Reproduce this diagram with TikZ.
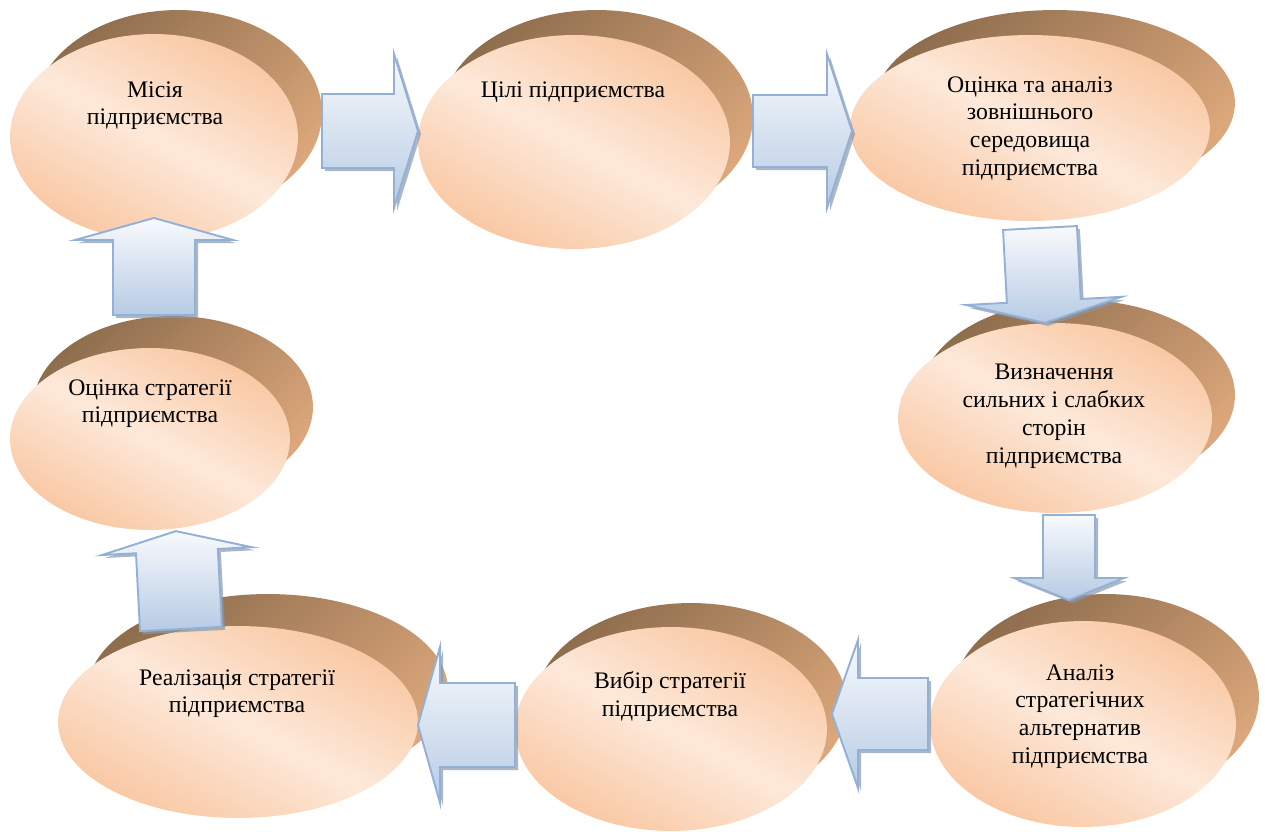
\documentclass[tikz,border=0pt]{standalone}
\usepackage{fontspec}
\setmainfont{Liberation Serif}
\usepackage{tikz}
\usetikzlibrary{calc,shapes.geometric}

\definecolor{peachlight}{HTML}{FDE9DA}
\definecolor{peachdark}{HTML}{F9C6A0}
\definecolor{browndark}{HTML}{8F6E4E}
\definecolor{brownlight}{HTML}{DCA77B}
\definecolor{arrowtop}{HTML}{F8FAFD}
\definecolor{arrowbottom}{HTML}{B7CBE4}
\definecolor{arrowline}{HTML}{93B1D6}
\definecolor{arrowshade}{HTML}{8A97A9}

\pgfdeclareverticalshading{peach}{100bp}{color(0bp)=(peachdark);
  color(24bp)=(peachdark); color(50bp)=(peachlight);
  color(76bp)=(peachdark); color(100bp)=(peachdark)}

\begin{document}
\begin{tikzpicture}[
    x=0.02cm, y=-0.02cm,
    backdisc/.style={
      ellipse,
      draw=none,
      inner sep=0pt,
      outer sep=0pt,
      top color=browndark,
      bottom color=brownlight,
      shading angle=45
    },
    frontdisc/.style={
      ellipse,
      draw=none,
      inner sep=0pt,
      outer sep=0pt,
      shade,
      shading=peach,
      shading angle=-28
    },
    stagetext/.style={
      anchor=north,
      align=center,
      inner sep=0pt,
      font=\fontsize{13.5}{15.8}\selectfont
    },
    arrbody/.style={
      draw=arrowline,
      line width=1.1pt,
      top color=arrowtop,
      bottom color=arrowbottom
    },
    arrshadow/.style={
      fill=arrowshade,
      fill opacity=0.7
    }]

    \useasboundingbox (0,0) rectangle (1265,832);

    % Helper macros.
    \def\stage#1#2#3#4#5{
      \node[backdisc, minimum width=#3*0.04cm, minimum height=#4*0.04cm]
        (#1-back) at ($(#2)+(#5)$) {};
      \node[frontdisc, minimum width=#3*0.04cm, minimum height=#4*0.04cm]
        (#1) at (#2) {};
    }
    \def\barrow#1#2#3#4#5#6#7{
      \coordinate (#1) at (#2);
      \fill[arrshadow, shift={(#1)}, shift={(3,3)}, rotate=#3]
        (0,-#5) -- ({#4-#7},-#5) -- ({#4-#7},-#6) -- (#4,0)
        -- ({#4-#7},#6) -- ({#4-#7},#5) -- (0,#5) -- cycle;
      \draw[arrbody, shift={(#1)}, rotate=#3]
        (0,-#5) -- ({#4-#7},-#5) -- ({#4-#7},-#6) -- (#4,0)
        -- ({#4-#7},#6) -- ({#4-#7},#5) -- (0,#5) -- cycle;
    }

    % Draw the stages of the cycle.
    \stage{mission}{154,137}{144}{103}{24,-24};
    \stage{goals}{574,142}{156}{107}{23,-25};
    \stage{environment}{1030,128}{180}{93}{25,-25};
    \stage{strengths}{1055,418}{157}{95}{23,-23};
    \stage{alternatives}{1083,724}{153}{103}{23,-27};
    \stage{choice}{671,729}{156}{102}{20,-24};
    \stage{implementation}{238,722}{180}{96}{30,-32};
    \stage{evaluation}{150,439}{140}{91}{23,-32};

    % Label the stages.
    \node[stagetext] (mission-text) at (155,81) {Місія\\підприємства};
    \node[stagetext] (goals-text) at (573,81) {Цілі підприємства};
    \node[stagetext] (environment-text) at (1030,76)
      {Оцінка та аналіз\\зовнішнього\\середовища\\підприємства};
    \node[stagetext] (strengths-text) at (1054,364)
      {Визначення\\сильних і слабких\\сторін\\підприємства};
    \node[stagetext] (alternatives-text) at (1080,664)
      {Аналіз\\стратегічних\\альтернатив\\підприємства};
    \node[stagetext] (choice-text) at (670,671)
      {Вибір стратегії\\підприємства};
    \node[stagetext] (implementation-text) at (237,669)
      {Реалізація стратегії\\підприємства};
    \node[stagetext] (evaluation-text) at (150,379)
      {Оцінка стратегії\\підприємства};

    % Draw the block arrows between the stages.
    \barrow{a1}{322,131}{0}{96}{37}{77}{24};
    \barrow{a2}{753,131}{0}{99}{36}{77}{25};
    \barrow{a3}{1040,228}{273}{95}{37}{78}{22};
    \barrow{a4}{1069,515}{270}{85}{26}{55}{22};
    \barrow{a5}{928,714}{180}{96}{36}{74}{26};
    \barrow{a6}{515,725}{180}{97}{42}{78}{22};
    \barrow{a7}{181,629}{93}{98}{41}{75}{20};
    \barrow{a8}{154,315}{90}{97}{41}{79}{22};
  \end{tikzpicture}
\end{document}
